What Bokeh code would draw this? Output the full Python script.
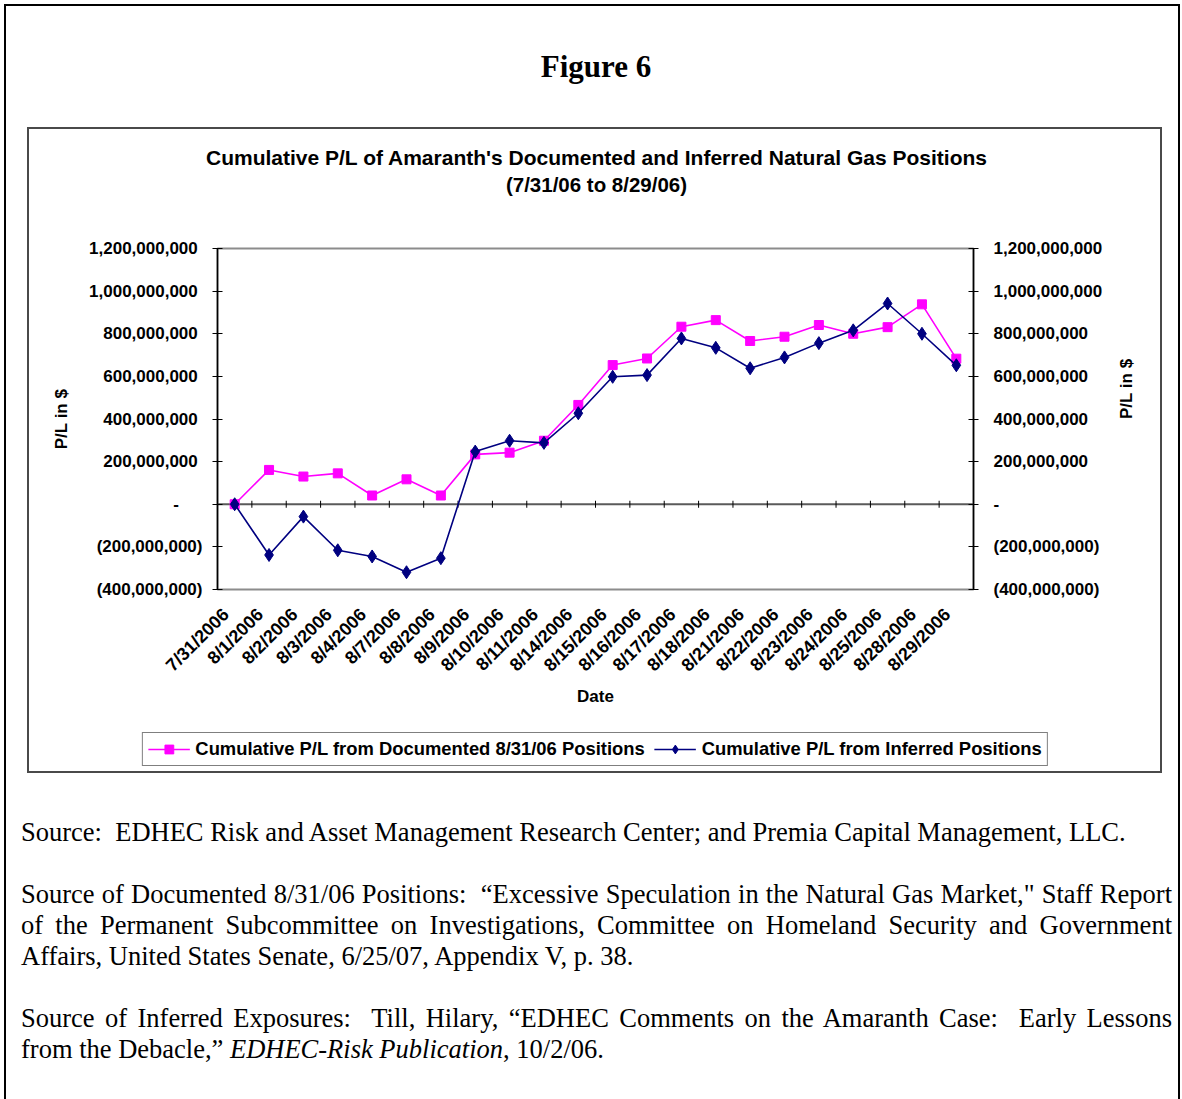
from math import pi
from bokeh.plotting import figure
from bokeh.models import (FactorRange, Range1d, LinearAxis, FixedTicker, Legend,
                          LegendItem, Div, Span)
from bokeh.layouts import column
from bokeh.embed import file_html
from bokeh.resources import INLINE

# ---------------- data ----------------
dates = ["7/31/2006", "8/1/2006", "8/2/2006", "8/3/2006", "8/4/2006", "8/7/2006",
         "8/8/2006", "8/9/2006", "8/10/2006", "8/11/2006", "8/14/2006", "8/15/2006",
         "8/16/2006", "8/17/2006", "8/18/2006", "8/21/2006", "8/22/2006", "8/23/2006",
         "8/24/2006", "8/25/2006", "8/28/2006", "8/29/2006"]
documented = [0, 161e6, 130e6, 145e6, 41e6, 117e6, 41e6, 234e6, 242e6, 298e6, 466e6,
              653e6, 684e6, 833e6, 864e6, 766e6, 786e6, 841e6, 800e6, 831e6, 938e6, 683e6]
inferred = [0, -238e6, -58e6, -216e6, -245e6, -319e6, -253e6, 247e6, 298e6, 288e6, 427e6,
            598e6, 606e6, 778e6, 734e6, 638e6, 689e6, 756e6, 816e6, 942e6, 800e6, 652e6]
tick_values = [-400e6, -200e6, 0, 200e6, 400e6, 600e6, 800e6, 1000e6, 1200e6]
tick_labels = ["(400,000,000)", "(200,000,000)", "-\u2007\u2007\u00a0",
               "200,000,000\u00a0", "400,000,000\u00a0", "600,000,000\u00a0",
               "800,000,000\u00a0", "1,000,000,000\u00a0", "1,200,000,000\u00a0"]
series_names = ["Cumulative P/L from Documented 8/31/06 Positions",
                "Cumulative P/L from Inferred Positions"]
chart_title = ["Cumulative P/L of Amaranth's Documented and Inferred Natural Gas Positions",
               "(7/31/06 to 8/29/06)"]
y_min, y_max = -400e6, 1200e6

SANS = "Liberation Sans"
PINK = "#FF00FF"
NAVY = "#000080"
CHART_W, CHART_H = 1131, 642
TITLE_H, PLOT_H = 80, 503
LEG_H = CHART_H - TITLE_H - PLOT_H

# ---------------- chart title (inside the chart box) ----------------
title_div = Div(text=("<div style='width:1131px; text-align:center; position:relative; left:2px;"
                      " font-family:\"Liberation Sans\",Arial,sans-serif; font-weight:bold;"
                      " color:#000; padding-top:15px; line-height:27px;'>"
                      f"<div style='font-size:21px;'>{chart_title[0]}</div>"
                      f"<div style='font-size:20.5px;'>{chart_title[1]}</div></div>"),
                width=CHART_W, height=TITLE_H, margin=0)

# ---------------- main figure ----------------
FRAME_H = 341
p = figure(x_range=FactorRange(factors=dates), y_range=Range1d(y_min, y_max),
           width=CHART_W, height=PLOT_H, output_backend="svg", toolbar_location=None,
           title=None, x_axis_location=None, min_border_left=188, min_border_right=187,
           min_border_top=39, min_border_bottom=PLOT_H - 39 - FRAME_H, margin=0)
p.background_fill_color = "white"
p.border_fill_color = "white"
p.grid.visible = False
p.outline_line_color = "#8c8c8c"
p.outline_line_width = 2

# date labels: one label per category, anchored slightly left of each category centre
# (Excel hangs the rotated text from its upper-right corner)
LABEL_SHIFT = 0.26
label_pos = [i + 0.5 - LABEL_SHIFT for i in range(len(dates))]
xa = LinearAxis(ticker=FixedTicker(ticks=label_pos),
                major_label_overrides={pos: d for pos, d in zip(label_pos, dates)})
xa.axis_line_color = None
xa.major_tick_line_color = None
xa.minor_tick_line_color = None
xa.major_label_orientation = pi / 4
xa.major_label_standoff = 16
xa.major_label_text_font = SANS
xa.major_label_text_font_style = "bold"
xa.major_label_text_font_size = "18px"
xa.major_label_text_color = "black"
xa.axis_label = "Date"
xa.axis_label_text_font = SANS
xa.axis_label_text_font_style = "bold"
xa.axis_label_text_font_size = "17px"
xa.axis_label_text_color = "black"
xa.axis_label_standoff = 2
p.add_layout(xa, "below")

overrides = {int(v): s for v, s in zip(tick_values, tick_labels)}

def style_y(ax, standoff, lab_standoff):
    ax.ticker = FixedTicker(ticks=tick_values)
    ax.major_label_overrides = overrides
    ax.axis_line_color = "black"
    ax.axis_line_width = 1.5
    ax.major_tick_line_color = "black"
    ax.major_tick_line_width = 1
    ax.major_tick_in = 5
    ax.major_tick_out = 5
    ax.minor_tick_line_color = None
    ax.major_label_standoff = standoff
    ax.major_label_text_font = SANS
    ax.major_label_text_font_style = "bold"
    ax.major_label_text_font_size = "17px"
    ax.major_label_text_color = "black"
    ax.axis_label = "P/L in $"
    ax.axis_label_text_font = SANS
    ax.axis_label_text_font_style = "bold"
    ax.axis_label_text_font_size = "17px"
    ax.axis_label_text_color = "black"
    ax.axis_label_standoff = lab_standoff

style_y(p.yaxis[0], 10, 15)
yr = LinearAxis()
style_y(yr, 15, 17)
try:
    yr.axis_label_orientation = pi / 2
except Exception:
    pass
p.add_layout(yr, "right")

# zero line with category-boundary ticks
p.add_layout(Span(location=0, dimension="width", line_color="#5a5a5a", line_width=2,
                  level="underlay"))
bounds = list(range(1, len(dates)))
half = (y_max - y_min) / FRAME_H * 3.5
p.segment(x0=bounds, y0=[-half] * len(bounds), x1=bounds, y1=[half] * len(bounds),
          line_color="black", line_width=1)

# series
def draw_series(fig):
    a = fig.line(dates, documented, line_color=PINK, line_width=1.6)
    b = fig.scatter(dates, documented, marker="square", size=9, fill_color=PINK,
                    line_color=PINK)
    c = fig.line(dates, inferred, line_color=NAVY, line_width=1.6)
    d = fig.scatter(dates, inferred, marker="diamond", size=13, fill_color=NAVY,
                    line_color=NAVY)
    return a, b, c, d

draw_series(p)

# ---------------- legend strip (own small figure; its view is above the data) ----------------
lg = figure(width=CHART_W, height=LEG_H, output_backend="svg", toolbar_location=None,
            x_range=FactorRange(factors=dates), y_range=Range1d(2 * y_max, 3 * y_max),
            title=None, x_axis_location=None, y_axis_location=None,
            min_border_left=0, min_border_right=0, min_border_top=0, min_border_bottom=0,
            margin=0)
try:
    lg.frame_align = False
except Exception:
    pass
lg.grid.visible = False
lg.outline_line_color = None
lg.background_fill_color = "white"
lg.border_fill_color = "white"
kl1, ks1, kl2, ks2 = draw_series(lg)
legend = Legend(items=[LegendItem(label=series_names[0], renderers=[kl1, ks1]),
                       LegendItem(label=series_names[1], renderers=[kl2, ks2])],
                orientation="horizontal", location="bottom_center",
                border_line_color="black", border_line_width=1,
                background_fill_color="white", background_fill_alpha=1,
                label_text_font=SANS, label_text_font_style="bold",
                label_text_font_size="18.4px", label_text_color="black",
                glyph_width=42, glyph_height=22, label_height=20,
                label_standoff=6, spacing=9, padding=5, margin=5)
lg.add_layout(legend, "center")

chart = column(title_div, p, lg, width=CHART_W, height=CHART_H, margin=(2, 0, 2, 25),
               styles={"box-shadow": "0 0 0 2px #4a4a4a", "background": "white"})

# ---------------- page texts ----------------
fig_div = Div(text=("<div style='width:1176px; text-align:center; position:relative; left:4px;"
                    " font-family:\"Liberation Serif\",serif;"
                    " font-weight:bold; font-size:31px; line-height:36px; color:#000;"
                    " padding-top:45px;'>Figure 6</div>"),
              width=1176, height=123, margin=0)

J = "text-align:justify; text-align-last:justify;"
src_html = (
    "<div style='font-family:\"Liberation Serif\",serif; font-size:26.5px; line-height:31px;"
    " color:#000; padding-top:44px; margin-left:17px; width:1151px;'>"
    "<div>Source:&nbsp; EDHEC Risk and Asset Management Research Center; and Premia Capital Management, LLC.</div>"
    "<div>&nbsp;</div>"
    f"<div style='{J}'>Source of Documented 8/31/06 Positions:&nbsp; \u201cExcessive Speculation in the Natural Gas Market,\" Staff Report</div>"
    f"<div style='{J}'>of the Permanent Subcommittee on Investigations, Committee on Homeland Security and Government</div>"
    "<div>Affairs, United States Senate, 6/25/07, Appendix V, p. 38.</div>"
    "<div>&nbsp;</div>"
    f"<div style='{J}'>Source of Inferred Exposures:&nbsp; Till, Hilary, \u201cEDHEC Comments on the Amaranth Case:&nbsp; Early Lessons</div>"
    "<div>from the Debacle,\u201d <i>EDHEC-Risk Publication</i>, 10/2/06.</div>"
    "</div>"
)
src_div = Div(text=src_html, width=1176, height=326, margin=0)

page = column(fig_div, chart, src_div, width=1176, height=1095, margin=(4, 0, 0, 4),
              styles={"box-shadow": "inset 2px 0 0 0 #000, inset -2px 0 0 0 #000, inset 0 2px 0 0 #000"})

open("out.html", "w").write(file_html(page, INLINE))
